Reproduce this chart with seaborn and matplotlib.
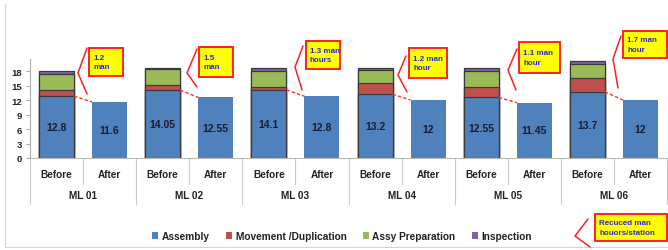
import numpy as np
import pandas as pd
import seaborn as sns
import matplotlib
matplotlib.use("Agg")
import matplotlib.pyplot as plt
from matplotlib.patches import Rectangle, Patch
from matplotlib.lines import Line2D
import matplotlib.transforms as mtransforms

sns.set_style("white")
plt.rcParams['font.family'] = ['Liberation Sans', 'DejaVu Sans']

# ---------------- data ----------------
groups = ["ML 01", "ML 02", "ML 03", "ML 04", "ML 05", "ML 06"]
phases = ["Before", "After"]
before_assembly = [12.8, 14.05, 14.1, 13.2, 12.55, 13.7]
before_movement = [1.2, 1.0, 0.7, 2.3, 2.1, 2.8]
before_assy_prep = [3.3, 3.3, 3.3, 2.7, 3.3, 2.9]
before_inspection = [0.8, 0.3, 0.5, 0.4, 0.6, 0.7]
after_assembly = [11.6, 12.55, 12.8, 12, 11.45, 12]
saved_notes = ["1.2\nman", "1.5\nman", "1.3 man\nhours", "1.2 man\nhour",
               "1.1 man\nhour", "1.7 man\nhour"]
series_names = ["Assembly", "Movement /Duplication", "Assy Preparation", "Inspection"]
yticks = [0, 3, 6, 9, 12, 15, 18]

colors = {"Assembly": "#4f81bd", "Movement /Duplication": "#c0504d",
          "Assy Preparation": "#9bbb59", "Inspection": "#8064a2"}

rows = []
for g, ba, bm, bp, bi, aa in zip(groups, before_assembly, before_movement,
                                 before_assy_prep, before_inspection, after_assembly):
    rows.append(dict(key=g + " Before", phase="Before", group=g,
                     a=ba, m=bm, p=bp, i=bi))
    rows.append(dict(key=g + " After", phase="After", group=g,
                     a=aa, m=0.0, p=0.0, i=0.0))
df = pd.DataFrame(rows)
df["c1"] = df["a"]
df["c2"] = df["c1"] + df["m"]
df["c3"] = df["c2"] + df["p"]
df["c4"] = df["c3"] + df["i"]
order = list(df["key"])
is_after = list(df["phase"] == "After")

# ---------------- figure ----------------
W, H = 668, 251
fig = plt.figure(figsize=(W / 100, H / 100), dpi=100)
ax = fig.add_axes([30 / W, 1 - 159 / H, 637 / W, 99 / H])

BW = 0.66
layers = [("c4", "Inspection"), ("c3", "Assy Preparation"),
          ("c2", "Movement /Duplication"), ("c1", "Assembly")]
for col, name in layers:
    n0 = len(ax.patches)
    sns.barplot(data=df, x="key", y=col, order=order, color=colors[name],
                saturation=1, width=BW, ax=ax, edgecolor="#3a3a3a",
                linewidth=0.9, errorbar=None)
    new = ax.patches[n0:]
    for k, patch in enumerate(new):
        if is_after[k]:
            patch.set_linewidth(0)
            if col != "c1":
                patch.set_visible(False)

ax.set_xlim(-0.5, len(order) - 0.5)
ax.set_ylim(0, 20.5)
ax.set_xlabel("")
ax.set_ylabel("")
ax.set_yticks(yticks)
ax.set_yticklabels([str(t) for t in yticks], fontsize=6.8, fontweight="bold",
                   color="#222222")
ax.tick_params(axis="y", length=3, width=0.6, color="#999999", pad=3, left=True)
ax.set_xticks(range(len(order)))
ax.set_xticklabels(list(df["phase"]), fontsize=7.2, fontweight="bold",
                   color="#222222")
ax.tick_params(axis="x", length=0, pad=8)
for s in ["top", "right"]:
    ax.spines[s].set_visible(False)
ax.spines["left"].set_color("#aaaaaa")
ax.spines["left"].set_linewidth(0.8)
ax.spines["bottom"].set_color("#bbbbbb")
ax.spines["bottom"].set_linewidth(0.8)

# value labels centred in assembly segments
for xi, row in enumerate(df.itertuples()):
    ax.text(xi, row.c1 / 2, f"{row.a:g}", ha="center", va="center",
            fontsize=7.5, fontweight="bold", color="#1c1c2c")

# dashed connectors before -> after
for gi in range(len(groups)):
    xb = 2 * gi
    ax.plot([xb + BW / 2, xb + 1 - BW / 2],
            [df.loc[xb, "c1"], df.loc[xb + 1, "c1"]],
            ls=(0, (2.5, 1.5)), color="#ff3030", lw=1.0, zorder=5)

# category separators and group labels
tr = mtransforms.blended_transform_factory(ax.transData, ax.transAxes)
for k in range(len(order) + 1):
    x = k - 0.5
    y1 = -0.465 if k % 2 == 0 else -0.263
    ax.add_line(Line2D([x, x], [0, y1], transform=tr, color="#c8c8c8",
                       lw=0.8, clip_on=False))
for gi, g in enumerate(groups):
    ax.text(2 * gi + 0.5, -0.374, g, transform=tr, ha="center", va="center",
            fontsize=7.2, fontweight="bold", color="#222222")

# legend
handles = [Patch(facecolor=colors[n], edgecolor="none") for n in series_names]
fig.legend(handles, series_names, loc="center", ncol=4,
           bbox_to_anchor=(342 / W, 1 - 237 / H), frameon=False,
           handlelength=0.6, handleheight=0.6, handletextpad=0.35,
           columnspacing=1.6, prop={"size": 7.3, "weight": "bold"},
           labelcolor="#222222")

# overlay in pixel coordinates for callouts and frame
ov = fig.add_axes([0, 0, 1, 1], facecolor="none")
ov.set_xlim(0, W)
ov.set_ylim(H, 0)
ov.axis("off")

ov.plot([5, 5], [5, 248], color="#d6d6d6", lw=0.8)
ov.plot([5, W], [248, 248], color="#d6d6d6", lw=0.8)

callouts = [
    ((89, 49, 123, 77), [(87, 49), (78, 74), (87, 95)]),
    ((199, 48, 233, 78), [(197, 50), (187, 74), (197, 88)]),
    ((306, 42, 340, 70), [(303, 47), (295, 68), (302, 91)]),
    ((409, 49, 447, 79), [(406, 57), (398, 76), (407, 93)]),
    ((519, 43, 560, 74), [(517, 50), (508, 71), (516, 91)]),
    ((623, 32, 667, 59), [(621, 37), (613, 60), (618, 89)]),
]
notes = saved_notes + ["Recuced man\nhouors/station"]
callouts.append(((595, 215, 667, 242), [(588, 220), (575, 237), (590, 248)]))

for (box, br), txt in zip(callouts, notes):
    x0, y0, x1, y1 = box
    ov.add_patch(Rectangle((x0, y0), x1 - x0, y1 - y0, facecolor="#ffff00",
                           edgecolor="#ff2020", lw=1.4))
    xs, ys = zip(*br)
    ov.plot(xs, ys, color="#ff2020", lw=1.1)
    ov.text(x0 + 4, (y0 + y1) / 2, txt, ha="left", va="center", fontsize=5.8,
            fontweight="bold", color="#2a2ad0", linespacing=1.5)

fig.savefig("out.png", dpi=100)
